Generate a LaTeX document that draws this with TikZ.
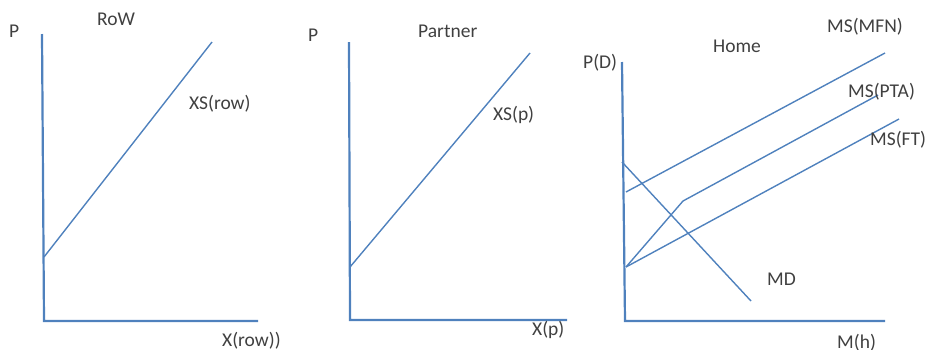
\documentclass[tikz,border=0pt]{standalone}
\usepackage{fontspec}
\setmainfont{Carlito}
\definecolor{lineblue}{RGB}{79,129,189}
\definecolor{txtgray}{RGB}{64,64,64}
\begin{document}
\begin{tikzpicture}[x=1pt,y=-1pt,
  axis/.style={draw=lineblue,line width=2.2pt},
  curve/.style={draw=lineblue,line width=1.4pt,line join=round},
  lbl/.style={anchor=base west,inner sep=0pt,text=txtgray,font=\fontsize{19.5}{22}\selectfont}]
\useasboundingbox (0,0) rectangle (928,349);
% Panel 1: RoW
\coordinate (a1top) at (42,34);
\coordinate (a1o) at (44,321);
\coordinate (a1x) at (258,321);
\coordinate (s1a) at (44,257);
\coordinate (s1b) at (212,42);
\draw[axis] (a1top) -- (a1o) -- (a1x);
\draw[curve] (s1a) -- (s1b);
\node[lbl] (p1) at (9,37) {P};
\node[lbl] (row) at (97,25) {RoW};
\node[lbl] (xsrow) at (189,109) {XS(row)};
\node[lbl] (xrow) at (222,346) {X(row))};
% Panel 2: Partner
\coordinate (a2top) at (349,42);
\coordinate (a2o) at (350,320);
\coordinate (a2x) at (567,320);
\coordinate (s2a) at (350,267);
\coordinate (s2b) at (530,53);
\draw[axis] (a2top) -- (a2o) -- (a2x);
\draw[curve] (s2a) -- (s2b);
\node[lbl] (p2) at (308,41) {P};
\node[lbl] (partner) at (418,37) {Partner};
\node[lbl] (xsp) at (493,120) {XS(p)};
\node[lbl] (xp) at (532,335) {X(p)};
% Panel 3: Home
\coordinate (a3top) at (622,62);
\coordinate (a3o) at (625,321);
\coordinate (a3x) at (885,321);
\coordinate (mfna) at (626,192);
\coordinate (mfnb) at (885,53);
\coordinate (kink) at (626,267);
\coordinate (ptam) at (683,201);
\coordinate (ptab) at (878,95);
\coordinate (ftb) at (899,119);
\coordinate (mda) at (622,162);
\coordinate (mdb) at (751,301);
\draw[axis] (a3top) -- (a3o) -- (a3x);
\draw[curve] (mfna) -- (mfnb);
\draw[curve] (kink) -- (ptam) -- (ptab);
\draw[curve] (kink) -- (ftb);
\draw[curve] (mda) -- (mdb);
\node[lbl] (pd) at (583,68) {P(D)};
\node[lbl] (home) at (713,52) {Home};
\node[lbl] (msmfn) at (827,32) {MS(MFN)};
\node[lbl] (mspta) at (848,97) {MS(PTA)};
\node[lbl] (msft) at (870,145) {MS(FT)};
\node[lbl] (md) at (767,285) {MD};
\node[lbl] (mh) at (837,348) {M(h)};
\end{tikzpicture}
\end{document}
